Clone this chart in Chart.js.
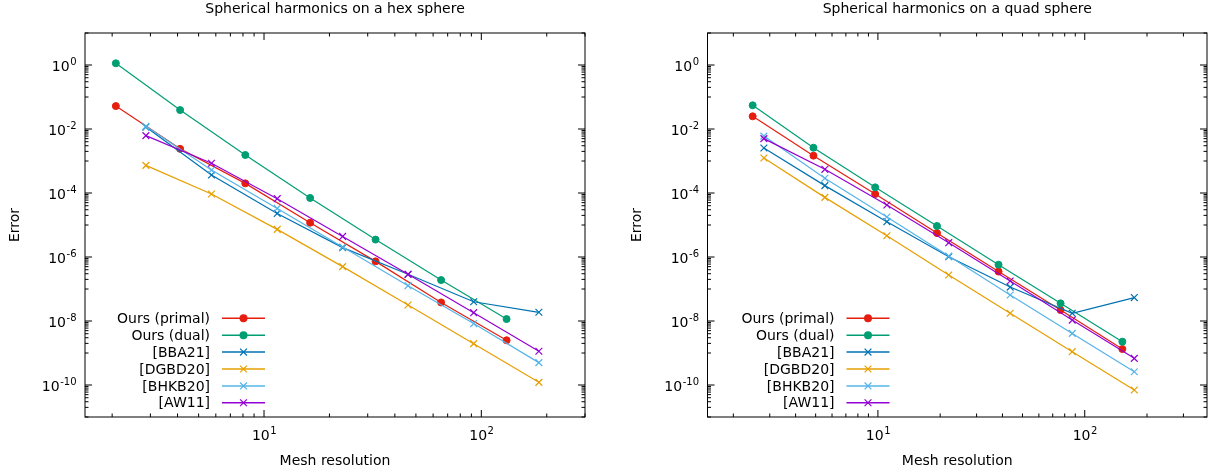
<!DOCTYPE html>
<html>
<head>
<meta charset="utf-8">
<script src="https://cdn.jsdelivr.net/npm/chart.js@4/dist/chart.umd.min.js"></script>
<style>
  html, body { margin: 0; padding: 0; background: #fff; }
  #wrap { position: relative; width: 1213px; height: 475px; }
  .box { position: absolute; top: 0; height: 475px; }
</style>
</head>
<body>
<div id="wrap">
  <div class="box" style="left:0;width:606px"><canvas id="hex"></canvas></div>
  <div class="box" style="left:606px;width:607px"><canvas id="quad"></canvas></div>
</div>
<script>
// Series labels + colours (gnuplot default palette)
const seriesLabels = ['Ours (primal)', 'Ours (dual)', '[BBA21]', '[DGBD20]', '[BHKB20]', '[AW11]'];
const seriesColors = ['#e51e10', '#009e73', '#0072b2', '#e69f00', '#56b4e9', '#9400d3'];
const seriesMarkers = ['circle', 'circle', 'crossRot', 'crossRot', 'crossRot', 'crossRot'];

// Hex sphere
const hexOursRes = [2.08, 4.11, 8.2, 16.3, 32.6, 65.3, 130.7];
const hexOtherRes = [2.86, 5.73, 11.5, 23.0, 46.0, 92.2, 184];
const hexPrimal = [5.2e-2, 2.4e-3, 2.0e-4, 1.18e-5, 7.3e-7, 3.8e-8, 2.5e-9];
const hexDual = [1.13, 3.9e-2, 1.54e-3, 7.0e-5, 3.5e-6, 1.9e-7, 1.15e-8];
const hexBBA21 = [1.15e-2, 3.65e-4, 2.3e-5, 1.96e-6, 2.9e-7, 4.0e-8, 1.87e-8];
const hexDGBD20 = [7.3e-4, 9.3e-5, 7.3e-6, 5.0e-7, 3.16e-8, 1.96e-9, 1.21e-10];
const hexBHKB20 = [1.21e-2, 5.2e-4, 3.3e-5, 2.05e-6, 1.27e-7, 8.3e-9, 5.0e-10];
const hexAW11 = [6.2e-3, 8.5e-4, 6.65e-5, 4.4e-6, 2.87e-7, 1.82e-8, 1.13e-9];

// Quad sphere
const quadOursRes = [2.48, 4.88, 9.7, 19.3, 38.3, 76.4, 152];
const quadOtherRes = [2.81, 5.54, 11.05, 22.0, 43.6, 87.0, 173.6];
const quadPrimal = [2.49e-2, 1.47e-3, 9.3e-5, 5.6e-6, 3.5e-7, 2.2e-8, 1.33e-9];
const quadDual = [5.5e-2, 2.6e-3, 1.5e-4, 9.3e-6, 5.75e-7, 3.56e-8, 2.26e-9];
const quadBBA21 = [2.55e-3, 1.7e-4, 1.27e-5, 1.02e-6, 1.15e-7, 1.74e-8, 5.4e-8];
const quadDGBD20 = [1.24e-3, 7.3e-5, 4.6e-6, 2.74e-7, 1.74e-8, 1.1e-9, 7.0e-11];
const quadBHKB20 = [6.0e-3, 2.9e-4, 1.78e-5, 1.07e-6, 6.5e-8, 4.1e-9, 2.6e-10];
const quadAW11 = [5.0e-3, 5.5e-4, 4.2e-5, 2.8e-6, 1.78e-7, 1.07e-8, 6.8e-10];

// Axis ranges
const errorMin = 1e-11, errorMax = 10;
const yMajorExps = [0, -2, -4, -6, -8, -10];
const xMajorExps = [1, 2];

const FONT = '"DejaVu Sans", sans-serif';

const pairs = (xs, ys) => xs.map((x, i) => ({ x, y: ys[i] }));

function line(ctx, x1, y1, x2, y2) {
  ctx.beginPath(); ctx.moveTo(x1, y1); ctx.lineTo(x2, y2); ctx.stroke();
}

// "10" with a raised exponent
function powLabel(ctx, exp, x, y, align) {
  ctx.font = '14px ' + FONT;
  const w1 = ctx.measureText('10').width;
  ctx.font = '10px ' + FONT;
  const w2 = ctx.measureText(String(exp)).width;
  const left = align === 'right' ? x - w1 - w2 : x - (w1 + w2) / 2;
  ctx.textAlign = 'left';
  ctx.textBaseline = 'alphabetic';
  ctx.font = '14px ' + FONT;
  ctx.fillText('10', left, y);
  ctx.font = '10px ' + FONT;
  ctx.fillText(String(exp), left + w1 + 0.5, y - 6);
}

// gnuplot-ish frame, tics, labels, title and key
const gnuFrame = {
  id: 'gnuFrame',
  afterDraw(c, args, opts) {
    const { ctx, chartArea: a, scales: { x, y } } = c;
    ctx.save();
    ctx.strokeStyle = '#000';
    ctx.fillStyle = '#000';
    ctx.lineWidth = 1;

    // x tics (mirrored, inward)
    for (let e = 0; e <= 2; e++) {
      for (let m = 1; m <= 9; m++) {
        const v = m * Math.pow(10, e);
        if (v < x.min || v > x.max) continue;
        const px = x.getPixelForValue(v);
        const len = m === 1 ? 7 : 3.5;
        line(ctx, px, a.bottom, px, a.bottom - len);
        line(ctx, px, a.top, px, a.top + len);
      }
    }
    // y tics: major every 100x, minor on the decade below
    for (let k = -6; k <= 1; k++) {
      const major = Math.pow(10, 2 * k);
      if (major >= y.min && major <= y.max) {
        const py = y.getPixelForValue(major);
        line(ctx, a.left, py, a.left + 7, py);
        line(ctx, a.right, py, a.right - 7, py);
      }
      for (let m = 1; m <= 9; m++) {
        const v = m * Math.pow(10, 2 * k - 1);
        if (v < y.min || v > y.max) continue;
        const py = y.getPixelForValue(v);
        line(ctx, a.left, py, a.left + 3.5, py);
        line(ctx, a.right, py, a.right - 3.5, py);
      }
    }
    ctx.strokeRect(a.left, a.top, a.right - a.left, a.bottom - a.top);

    // tick labels
    yMajorExps.forEach((e) => {
      powLabel(ctx, e, a.left - 9, y.getPixelForValue(Math.pow(10, e)) + 6, 'right');
    });
    xMajorExps.forEach((e) => {
      powLabel(ctx, e, x.getPixelForValue(Math.pow(10, e)), a.bottom + 23, 'center');
    });

    // titles
    const cx = (a.left + a.right) / 2;
    ctx.font = '14px ' + FONT;
    ctx.textAlign = 'center';
    ctx.textBaseline = 'alphabetic';
    ctx.fillText(opts.title, cx, 13);
    ctx.fillText('Mesh resolution', cx, 464.5);
    ctx.save();
    ctx.translate(a.left - 70, (a.top + a.bottom) / 2);
    ctx.rotate(-Math.PI / 2);
    ctx.textBaseline = 'middle';
    ctx.fillText('Error', 0, 0);
    ctx.restore();

    // key, bottom left
    c.data.datasets.forEach((ds, i) => {
      const ry = 318.3 + i * 16.9;
      ctx.fillStyle = '#000';
      ctx.font = '14px ' + FONT;
      ctx.textAlign = 'right';
      ctx.textBaseline = 'middle';
      ctx.fillText(ds.label, a.left + opts.keyText, ry + 1);
      ctx.strokeStyle = ds.borderColor;
      ctx.lineWidth = 1.5;
      const x0 = a.left + opts.keyText + 12, x1 = x0 + 43, mx = (x0 + x1) / 2;
      line(ctx, x0, ry, x1, ry);
      if (ds.pointStyle === 'circle') {
        ctx.fillStyle = ds.borderColor;
        ctx.beginPath(); ctx.arc(mx, ry, 4, 0, Math.PI * 2); ctx.fill();
      } else {
        ctx.lineWidth = 1.2;
        line(ctx, mx - 3.4, ry - 3.4, mx + 3.4, ry + 3.4);
        line(ctx, mx - 3.4, ry + 3.4, mx + 3.4, ry - 3.4);
      }
    });
    ctx.restore();
  },
};

function makeChart(id, title, xMax, pad, keyText, series) {
  const ctx = document.getElementById(id);
  return new Chart(ctx, {
    type: 'line',
    data: {
      datasets: series.map((pts, i) => ({
        label: seriesLabels[i],
        data: pts,
        borderColor: seriesColors[i],
        backgroundColor: seriesColors[i],
        borderWidth: 1.2,
        tension: 0,
        fill: false,
        pointStyle: seriesMarkers[i],
        pointRadius: seriesMarkers[i] === 'circle' ? 3.5 : 4.8,
        pointBorderWidth: seriesMarkers[i] === 'circle' ? 1 : 1.2,
        pointBackgroundColor: seriesColors[i],
        pointBorderColor: seriesColors[i],
        order: series.length - i,
        clip: false,
      })),
    },
    options: {
      responsive: true,
      maintainAspectRatio: false,
      animation: false,
      events: [],
      layout: { padding: pad },
      scales: {
        x: {
          type: 'logarithmic',
          min: 1.5,
          max: xMax,
          grid: { display: false, drawTicks: false },
          border: { display: false },
          ticks: { display: false },
          afterFit: (s) => { s.height = 0; },
        },
        y: {
          type: 'logarithmic',
          min: errorMin,
          max: errorMax,
          grid: { display: false, drawTicks: false },
          border: { display: false },
          ticks: { display: false },
          afterFit: (s) => { s.width = 0; },
        },
      },
      plugins: {
        legend: { display: false },
        tooltip: { enabled: false },
        gnuFrame: { title, keyText },
      },
    },
    plugins: [gnuFrame],
  });
}

makeChart('hex', 'Spherical harmonics on a hex sphere', 300,
  { left: 85, right: 21, top: 33, bottom: 58 }, 125, [
    pairs(hexOursRes, hexPrimal),
    pairs(hexOursRes, hexDual),
    pairs(hexOtherRes, hexBBA21),
    pairs(hexOtherRes, hexDGBD20),
    pairs(hexOtherRes, hexBHKB20),
    pairs(hexOtherRes, hexAW11),
  ]);

makeChart('quad', 'Spherical harmonics on a quad sphere', 390,
  { left: 101.5, right: 6, top: 33, bottom: 58 }, 127, [
    pairs(quadOursRes, quadPrimal),
    pairs(quadOursRes, quadDual),
    pairs(quadOtherRes, quadBBA21),
    pairs(quadOtherRes, quadDGBD20),
    pairs(quadOtherRes, quadBHKB20),
    pairs(quadOtherRes, quadAW11),
  ]);
</script>
</body>
</html>
